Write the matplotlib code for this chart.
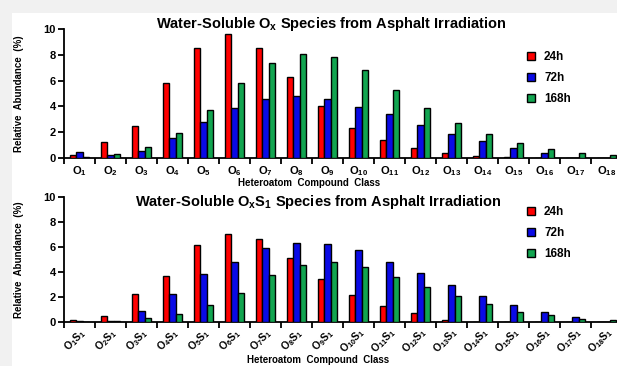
import matplotlib
matplotlib.use("Agg")
import matplotlib.pyplot as plt
import numpy as np
from matplotlib.patches import Rectangle, Patch

plt.rcParams['font.family'] = ['Liberation Sans', 'DejaVu Sans']
plt.rcParams['font.weight'] = 'bold'
plt.rcParams['mathtext.fontset'] = 'custom'
plt.rcParams['mathtext.rm'] = 'Liberation Sans:bold'
plt.rcParams['mathtext.bf'] = 'Liberation Sans:bold'
plt.rcParams['mathtext.it'] = 'Liberation Sans:bold'
plt.rcParams['mathtext.default'] = 'bf'

# oxygen count per compound class
n_oxygen = list(range(1, 19))
series = ['24h', '72h', '168h']
colors = ['#ff0000', '#0a0ae6', '#12a550']

# O_x classes
ox_24h = [0.2, 1.2, 2.45, 5.85, 8.55, 9.6, 8.55, 6.25, 4.0, 2.35, 1.35, 0.72, 0.33, 0.15, 0.03, 0.0, 0.0, 0.0]
ox_72h = [0.42, 0.2, 0.55, 1.5, 2.75, 3.85, 4.55, 4.8, 4.57, 3.97, 3.38, 2.57, 1.85, 1.28, 0.76, 0.39, 0.0, 0.0]
ox_168h = [0.05, 0.27, 0.8, 1.95, 3.75, 5.85, 7.35, 8.05, 7.87, 6.8, 5.27, 3.85, 2.7, 1.85, 1.12, 0.65, 0.34, 0.18]

# O_xS_1 classes
oxs_24h = [0.13, 0.43, 2.21, 3.68, 6.1, 6.99, 6.59, 5.07, 3.41, 2.11, 1.25, 0.69, 0.13, 0.0, 0.0, 0.0, 0.0, 0.0]
oxs_72h = [0.05, 0.05, 0.88, 2.21, 3.79, 4.8, 5.87, 6.27, 6.21, 5.71, 4.8, 3.89, 2.93, 2.03, 1.36, 0.75, 0.35, 0.0]
oxs_168h = [0.0, 0.03, 0.29, 0.59, 1.36, 2.32, 3.71, 4.51, 4.75, 4.35, 3.57, 2.77, 2.08, 1.41, 0.8, 0.51, 0.24, 0.1]

ox_labels = [f"O$_{{{n}}}$" for n in n_oxygen]
oxs_labels = [f"O$_{{{n}}}$S$_{{1}}$" for n in n_oxygen]

W, H = 617, 366
fig = plt.figure(figsize=(W / 100, H / 100), dpi=100, facecolor='#f1f1f1')
fig.patches.append(Rectangle((12 / W, 0), 1, (H - 13) / H, transform=fig.transFigure,
                             facecolor='white', edgecolor='none', zorder=-10))


def px_axes(left, right, top, bottom):
    return fig.add_axes([left / W, (H - bottom) / H, (right - left) / W, (bottom - top) / H])


def draw_panel(ax, data, labels, rotate):
    x = np.array(n_oxygen, dtype=float)
    bw = 0.21
    for k, (vals, c, name) in enumerate(zip(data, colors, series)):
        ax.bar(x + (k - 1) * bw, vals, width=bw, color=c, edgecolor='black',
               linewidth=1.0, label=name, zorder=3)
    ax.set_xlim(0.5, 18.5)
    ax.set_ylim(0, 10)
    ax.set_facecolor('none')
    for s in ['top', 'right']:
        ax.spines[s].set_visible(False)
    for s in ['left', 'bottom']:
        ax.spines[s].set_linewidth(1.3)
    ax.set_yticks([0, 2, 4, 6, 8, 10])
    ax.tick_params(axis='y', length=4, width=1.3, labelsize=8, pad=2)
    # boundary ticks between classes, class names centred on the minor ticks
    ax.set_xticks(np.arange(0.5, 19.5, 1.0))
    ax.set_xticklabels([])
    ax.tick_params(axis='x', which='major', length=4, width=1.3)
    ax.set_xticks(x, minor=True)
    if rotate:
        ax.tick_params(axis='x', which='minor', length=0, pad=3, labelsize=7.5,
                       labelrotation=45)
        ax.set_xticklabels(labels, minor=True)
        plt.setp(ax.get_xticklabels(minor=True), ha='right', va='top',
                 rotation_mode='anchor')
    else:
        ax.tick_params(axis='x', which='minor', length=0, pad=5, labelsize=8)
        ax.set_xticklabels(labels, minor=True)
    ax.set_ylabel('Relative  Abundance  (%)', fontsize=7, fontweight='bold')
    ax.yaxis.set_label_coords(-0.072, 0.5)


ax1 = px_axes(64, 622, 29.3, 157.7)
draw_panel(ax1, [ox_24h, ox_72h, ox_168h], ox_labels, rotate=False)
ax1.text(0.439, -0.155, 'Heteroatom  Compound  Class', transform=ax1.transAxes,
         ha='center', va='top', fontsize=7)
ax1.text(0.479, 1.041, 'Water-Soluble O$_{x}$ Species from Asphalt Irradiation',
         transform=ax1.transAxes, ha='center', va='center', fontsize=10.5)

ax2 = px_axes(64, 622, 196.7, 321.7)
draw_panel(ax2, [oxs_24h, oxs_72h, oxs_168h], oxs_labels, rotate=True)
ax2.text(0.455, -0.27, 'Heteroatom  Compound  Class', transform=ax2.transAxes,
         ha='center', va='top', fontsize=7)
ax2.text(0.455, 0.958, 'Water-Soluble O$_{x}$S$_{1}$ Species from Asphalt Irradiation',
         transform=ax2.transAxes, ha='center', va='center', fontsize=10.5)

handles = [Patch(facecolor=c, edgecolor='black', linewidth=1.0) for c in colors]
for ax, ytop in [(ax1, 51), (ax2, 206)]:
    ax.legend(handles, series, loc='upper left', bbox_to_anchor=(527 / W, (H - ytop) / H),
              bbox_transform=fig.transFigure, frameon=False, fontsize=8.5,
              handlelength=0.65, handleheight=0.65, handletextpad=0.8,
              labelspacing=0.75, borderpad=0, borderaxespad=0)

fig.savefig('out.png', dpi=100, facecolor=fig.get_facecolor())
